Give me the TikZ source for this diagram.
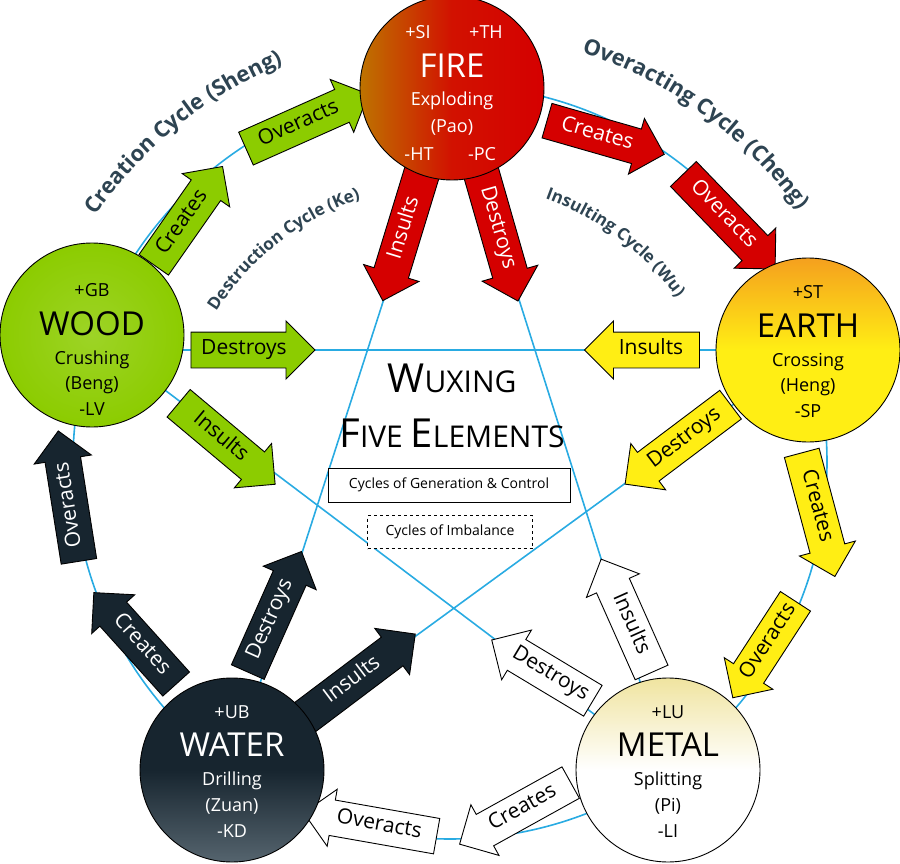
\documentclass[tikz,border=0pt]{standalone}
\usepackage{fontspec}
\setmainfont{Open Sans}
\usetikzlibrary{shapes.arrows,decorations.text,calc}
\definecolor{firered}{RGB}{213,0,0}
\definecolor{fireorg}{RGB}{190,115,0}
\definecolor{woodg}{RGB}{140,204,0}
\definecolor{earthy}{RGB}{255,238,20}
\definecolor{eartho}{RGB}{245,160,30}
\definecolor{waterd}{RGB}{23,37,47}
\definecolor{waterl}{RGB}{85,100,110}
\definecolor{metaly}{RGB}{240,228,160}
\definecolor{bl}{RGB}{41,171,226}
\definecolor{lab}{RGB}{46,68,82}
\newcommand\myarr[8]{\node[arr,fill=#2,text=#3,rotate=#5,shape border rotate=#6,minimum height=#7pt] (#1) at #4 {#8};}
\begin{document}
\begin{tikzpicture}[x=1pt,y=-1pt,
  arr/.style={single arrow, draw=black, line width=0.9pt, single arrow head extend=11pt,
    inner xsep=3pt, inner ysep=8pt, text height=14pt, text depth=5pt,
    font=\fontsize{21}{21}\selectfont, anchor=center},
  elem/.style={circle, draw=black, line width=0.9pt, minimum size=184pt, inner sep=0pt},
  big/.style={font=\fontsize{33}{33}\selectfont},
  sm/.style={font=\fontsize{18}{18}\selectfont},
  blue/.style={draw=bl, line width=1.6pt}]
\useasboundingbox (0,0) rectangle (900,864);
\coordinate (ctr) at (450,462);
\draw[blue] (ctr) circle[radius=377];
\coordinate (cF) at (452,88);
\coordinate (cW) at (92,335);
\coordinate (cE) at (808,350);
\coordinate (cA) at (232,770);
\coordinate (cM) at (668,770);
\coordinate (hW) at (92,350);
\draw[blue] (cF) -- (cA) (cF) -- (cM) (hW) -- (cE) (cW) -- (cM) (cE) -- (cA);
% labels along arcs
\path[decorate, decoration={text along path, text align=center,
  text={|\fontsize{22}{22}\selectfont\bfseries\color{lab}|Creation Cycle (Sheng)}}]
  ($(ctr)+(-162:432)$) arc[start angle=-162, end angle=-96, radius=432];
\path[decorate, decoration={text along path, text align=center,
  text={|\fontsize{22}{22}\selectfont\bfseries\color{lab}|Overacting Cycle (Cheng)}}]
  ($(ctr)+(-86:430)$) arc[start angle=-86, end angle=-22, radius=430];
\path[decorate, decoration={text along path, text align=center,
  text={|\fontsize{17}{17}\selectfont\bfseries\color{lab}|Destruction Cycle (Ke)}}]
  ($(ctr)+(-164:278)$) arc[start angle=-164, end angle=-92, radius=278];
\path[decorate, decoration={text along path, text align=center,
  text={|\fontsize{17}{17}\selectfont\bfseries\color{lab}|Insulting Cycle (Wu)}}]
  ($(ctr)+(-86:280)$) arc[start angle=-86, end angle=-20, radius=280];
% arrows: fire
\myarr{fc}{firered}{white}{(597,135)}{-16}{0}{122}{Creates}
\myarr{fo}{firered}{white}{(723,215)}{-46}{0}{132}{Overacts}
\myarr{fi}{firered}{white}{(405,228)}{73}{180}{134}{Insults}
\myarr{fd}{firered}{white}{(497,228)}{-74}{0}{134}{Destroys}
% wood
\myarr{wc}{woodg}{black}{(183,223)}{55}{0}{120}{Creates}
\myarr{wo}{woodg}{black}{(299,125)}{24}{0}{134}{Overacts}
\myarr{wd}{woodg}{black}{(244,350)}{0}{0}{124}{Destroys}
\myarr{wi}{woodg}{black}{(220,438)}{-40}{0}{126}{Insults}
% earth
\myarr{ei}{earthy}{black}{(651,350)}{0}{180}{115}{Insults}
\myarr{ed}{earthy}{black}{(685,439)}{37}{180}{132}{Destroys}
\myarr{ec}{earthy}{black}{(816,506)}{-75}{0}{128}{Creates}
\myarr{eo}{earthy}{black}{(769,642)}{57}{180}{115}{Overacts}
% metal
\myarr{mc}{white}{black}{(523,809)}{29}{180}{127}{Creates}
\myarr{mo}{white}{black}{(379,826)}{-10}{180}{135}{Overacts}
\myarr{md}{white}{black}{(550,675)}{-31}{180}{118}{Destroys}
\myarr{mi}{white}{black}{(630,624)}{-66}{180}{124}{Insults}
% water
\myarr{ac}{waterd}{white}{(141,645)}{-48}{180}{123}{Creates}
\myarr{ao}{waterd}{white}{(70,505)}{99}{0}{132}{Overacts}
\myarr{ad}{waterd}{white}{(271,620)}{66}{0}{132}{Destroys}
\myarr{ai}{waterd}{white}{(353,681)}{37}{0}{138}{Insults}
% element circles
\node[elem, left color=fireorg, right color=firered, middle color=firered!85!fireorg] (F) at (cF) {};
\node[elem, inner color=woodg!85!white, outer color=woodg] (W) at (cW) {};
\node[elem, shading angle=135, top color=eartho, bottom color=earthy, middle color=earthy] (E) at (cE) {};
\node[elem, shading angle=-60, top color=waterd, bottom color=waterl, middle color=waterd] (A) at (cA) {};
\node[elem, shading angle=45, top color=metaly, bottom color=white, middle color=white] (M) at (cM) {};
\begin{scope}[text=white]
\node[sm] (f1) at (418,32) {+SI};
\node[sm] (f2) at (486,32) {+TH};
\node[big] (f3) at (452,66) {FIRE};
\node[sm] (f4) at (452,101) {Exploding};
\node[sm] (f5) at (452,127) {(Pao)};
\node[sm] (f6) at (419,154) {-HT};
\node[sm] (f7) at (482,154) {-PC};
\node[sm] (a1) at (232,712) {+UB};
\node[big] (a2) at (232,745) {WATER};
\node[sm] (a3) at (232,781) {Drilling};
\node[sm] (a4) at (232,806) {(Zuan)};
\node[sm] (a5) at (232,831) {-KD};
\end{scope}
\node[sm] (w1) at (92,290) {+GB};
\node[big] (w2) at (92,324) {WOOD};
\node[sm] (w3) at (92,360) {Crushing};
\node[sm] (w4) at (92,385) {(Beng)};
\node[sm] (w5) at (92,409) {-LV};
\node[sm] (e1) at (808,292) {+ST};
\node[big] (e2) at (808,326) {EARTH};
\node[sm] (e3) at (808,362) {Crossing};
\node[sm] (e4) at (808,387) {(Heng)};
\node[sm] (e5) at (808,411) {-SP};
\node[sm] (m1) at (668,712) {+LU};
\node[big] (m2) at (668,745) {METAL};
\node[sm] (m3) at (668,781) {Splitting};
\node[sm] (m4) at (668,806) {(Pi)};
\node[sm] (m5) at (668,831) {-LI};
% title
\node (t1) at (452,378) {{\fontsize{40}{40}\selectfont W}{\fontsize{30}{30}\selectfont UXING}};
\node (t2) at (452,433) {{\fontsize{40}{40}\selectfont F}{\fontsize{30}{30}\selectfont IVE }{\fontsize{40}{40}\selectfont E}{\fontsize{30}{30}\selectfont LEMENTS}};
\node[draw, fill=white, line width=0.8pt, minimum width=242pt, minimum height=34pt, font=\fontsize{14}{14}\selectfont] (b1) at (449,485) {Cycles of Generation \& Control};
\node[draw, fill=white, dashed, line width=0.8pt, minimum width=165pt, minimum height=33pt, font=\fontsize{14}{14}\selectfont] (b2) at (450,532) {Cycles of Imbalance};
\end{tikzpicture}
\end{document}
